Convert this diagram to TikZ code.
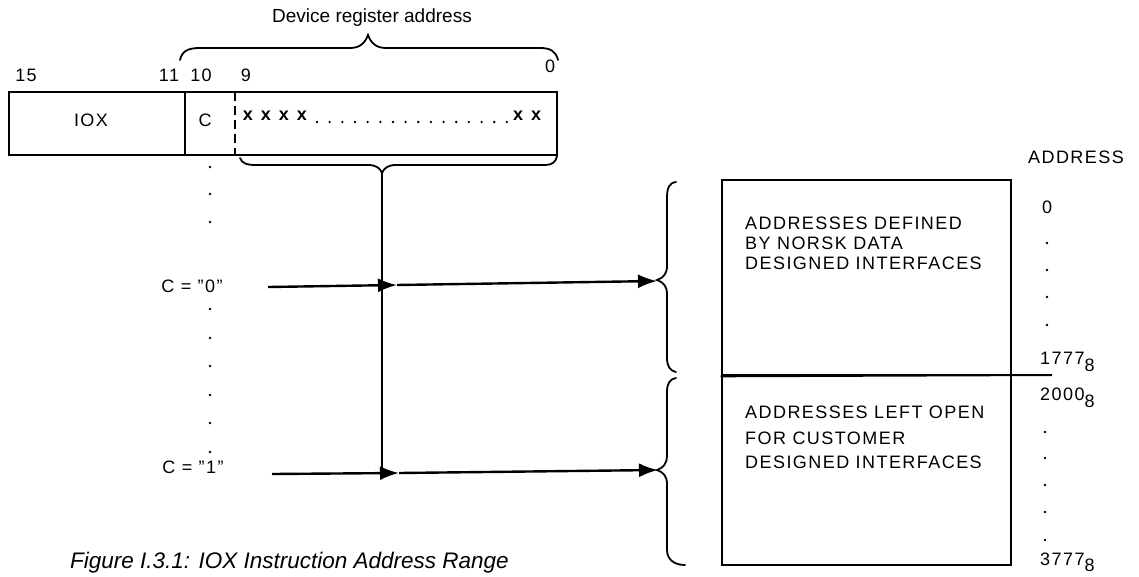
\documentclass[tikz,border=0pt]{standalone}
\usepackage{fontspec}
\setmainfont{Liberation Sans}
\usetikzlibrary{arrows.meta}
\begin{document}
\begin{tikzpicture}[x=1pt,y=-1pt,
  lbl/.style={inner sep=0pt, font=\fontsize{18}{21}\selectfont\addfontfeature{LetterSpace=8}},
  regbox/.style={draw, line width=2.6pt, inner sep=0pt},
  arr/.style={line width=2.4pt, -{Latex[length=19pt,width=14pt]}},
  brace/.style={line width=1.8pt, line cap=round},
  dotmark/.style={circle, fill, inner sep=0pt, minimum size=2.6pt}]
\fill[white] (0,0) rectangle (1139,576);
\useasboundingbox (0,0) rectangle (1139,576);

% register
\node[regbox, minimum width=548pt, minimum height=63pt] (reg) at (283,123.5) {};
\draw[line width=2pt] (185,92) -- (185,155);
\draw[line width=2pt, dash pattern=on 9pt off 5pt] (235,92) -- (235,155);
\node[lbl] (n15) at (26,75) {15};
\node[lbl] (n11) at (169,75) {11};
\node[lbl] (n10) at (201,75) {10};
\node[lbl] (n9) at (246,75) {9};
\node[lbl] (n0) at (550,66) {0};
\node[lbl] (ioxl) at (91,120) {IOX};
\node[lbl] (cl) at (205,120) {C};
\foreach \x in {248,266,284,302,518,536} \node[lbl, font=\fontsize{18}{21}\selectfont\bfseries] (x\x) at (\x,116) {x};
\foreach \i in {0,...,15} \node[dotmark] (d\i) at ({317+\i*12.66},122) {};
\node[font=\fontsize{19}{22}\selectfont, inner sep=0pt] (dev) at (372,18) {Device register address};

% braces on register
\draw[brace] (180,60) .. controls (182,51) and (188,48) .. (200,48) -- (350,48)
  .. controls (360,48) and (365,43) .. (368,35) .. controls (371,43) and (376,48) .. (386,48)
  -- (540,48) .. controls (550,48) and (556,51) .. (558,60);
\draw[brace] (240,158) .. controls (242,163) and (246,165) .. (256,165) -- (368,165)
  .. controls (376,165) and (380,168) .. (382,173) .. controls (384,168) and (388,165) .. (396,165)
  -- (545,165) .. controls (552,165) and (556,162) .. (557,156);

% left dots
\foreach \y in {167,194,222,309,338,366,395,423,452} \node[dotmark] (ld\y) at (210,\y) {};
\node[lbl] (lc0) at (192,286) {C = ''0''};
\node[lbl] (lc1) at (193,467) {C = ''1''};

% connectors
\coordinate (btip) at (382,173);
\coordinate (vend) at (382,473);
\coordinate (c0s) at (268,287);
\coordinate (m0) at (397,285);
\coordinate (t0) at (657,281);
\coordinate (c1s) at (272,474);
\coordinate (m1) at (399,473);
\coordinate (t1) at (658,470);
\draw[line width=1.6pt] (btip) -- (vend);
\draw[arr] (c0s) -- (m0);
\draw[arr] (m0) -- (t0);
\draw[arr] (c1s) -- (m1);
\draw[arr] (m1) -- (t1);

% right braces
\draw[brace] (676,182) .. controls (669,183) and (667,188) .. (667,198) -- (667,266)
  .. controls (667,274) and (663,278) .. (657,280) .. controls (663,282) and (667,286) .. (667,294)
  -- (667,358) .. controls (667,366) and (670,371) .. (676,372);
\draw[brace] (676,378) .. controls (670,379) and (667,383) .. (667,392) -- (667,455)
  .. controls (667,464) and (663,468) .. (657,470) .. controls (663,472) and (667,476) .. (667,484)
  -- (667,550) .. controls (667,560) and (675,565) .. (685,565);

% address boxes
\node[regbox, minimum width=289pt, minimum height=195pt] (nd) at (866.5,277.5) {};
\node[regbox, minimum width=289pt, minimum height=190pt] (cust) at (866.5,470) {};
\draw[line width=2pt] (nd.south west) -- (1052,375);
\node[lbl, anchor=west] (t1a) at (745,223) {ADDRESSES DEFINED};
\node[lbl, anchor=west] (t1b) at (745,243) {BY NORSK DATA};
\node[lbl, anchor=west] (t1c) at (745,263) {DESIGNED INTERFACES};
\node[lbl, anchor=west] (t2a) at (745,412) {ADDRESSES LEFT OPEN};
\node[lbl, anchor=west] (t2b) at (745,438) {FOR CUSTOMER};
\node[lbl, anchor=west] (t2c) at (745,462) {DESIGNED INTERFACES};

% address column
\node[lbl] (addr) at (1076,157) {ADDRESS};
\node[lbl] (a0) at (1047,207) {0};
\foreach \y in {243,270,297,325} \node[dotmark] (ad\y) at (1047,\y) {};
\foreach \y in {432,458,485,512,540} \node[dotmark] (ae\y) at (1045,\y) {};
\node[lbl, anchor=base west] (a1777) at (1040,364) {1777\raisebox{-7pt}{8}};
\node[lbl, anchor=base west] (a2000) at (1040,400) {2000\raisebox{-7pt}{8}};
\node[lbl, anchor=base west] (a3777) at (1040,565) {3777\raisebox{-6pt}{8}};

% caption
\node[font=\fontsize{22.5}{26}\selectfont\itshape, anchor=west, inner sep=0pt] (cap) at (70,563) {Figure I.3.1: IOX Instruction Address Range};
\end{tikzpicture}
\end{document}
